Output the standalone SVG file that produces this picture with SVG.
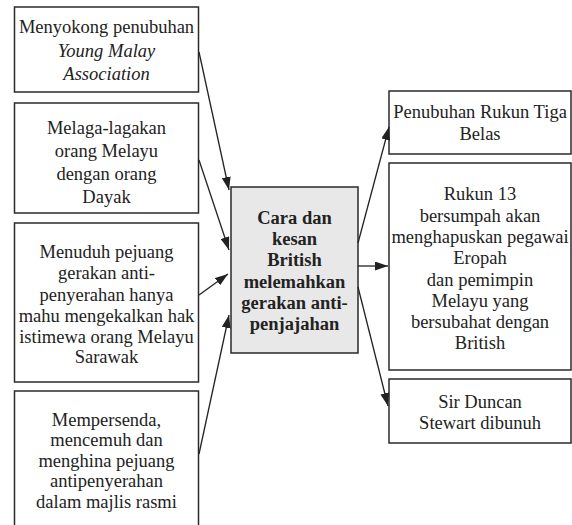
<svg xmlns="http://www.w3.org/2000/svg" width="572" height="525" viewBox="0 0 572 525">
<defs>
<style>
.box{fill:#fff;stroke:#2a2a2a;stroke-width:1.5}
.cbox{fill:#e8e8e8;stroke:#2a2a2a;stroke-width:1.5}
text{font-size:18.5px;fill:#222;text-anchor:middle}
.b{font-weight:bold}
.i{font-style:italic}
.c line{stroke:#222;stroke-width:1.3;marker-end:url(#ah)}
</style>
<marker id="ah" markerUnits="userSpaceOnUse" markerWidth="13" markerHeight="9" refX="13" refY="4.5" orient="auto">
<path d="M0,0 L13,4.5 L0,9 z" fill="#222"/>
</marker>
</defs>
<rect width="572" height="525" fill="#fff"/>
<g font-family="'Liberation Serif', 'DejaVu Serif', serif">
<g id="n1">
<rect class="box" x="14.5" y="7" width="184" height="85"/>
<text x="106.5" y="33">Menyokong penubuhan</text>
<text x="106.5" y="57" class="i">Young Malay</text>
<text x="106.5" y="80" class="i">Association</text>
</g>
<g id="n2">
<rect class="box" x="14.5" y="103" width="184" height="110"/>
<text x="106.5" y="134">Melaga-lagakan</text>
<text x="106.5" y="157">orang Melayu</text>
<text x="106.5" y="180">dengan orang</text>
<text x="106.5" y="203">Dayak</text>
</g>
<g id="n3">
<rect class="box" x="14.5" y="223" width="184" height="159"/>
<text x="106.5" y="258">Menuduh pejuang</text>
<text x="106.5" y="279">gerakan anti-</text>
<text x="106.5" y="301">penyerahan hanya</text>
<text x="106.5" y="322">mahu mengekalkan hak</text>
<text x="106.5" y="343">istimewa orang Melayu</text>
<text x="106.5" y="363">Sarawak</text>
</g>
<g id="n4">
<rect class="box" x="14.5" y="391" width="184" height="140"/>
<text x="106.5" y="426">Mempersenda,</text>
<text x="106.5" y="446">mencemuh dan</text>
<text x="106.5" y="467">menghina pejuang</text>
<text x="106.5" y="487">antipenyerahan</text>
<text x="106.5" y="508">dalam majlis rasmi</text>
</g>
<g id="center">
<rect class="cbox" x="231" y="187" width="127" height="166"/>
<text class="b" x="294.5" y="224">Cara dan</text>
<text class="b" x="294.5" y="245">kesan</text>
<text class="b" x="294.5" y="266">British</text>
<text class="b" x="294.5" y="288">melemahkan</text>
<text class="b" x="294.5" y="309">gerakan anti-</text>
<text class="b" x="294.5" y="330">penjajahan</text>
</g>
<g id="r1">
<rect class="box" x="389" y="91" width="182" height="63"/>
<text x="480" y="118">Penubuhan Rukun Tiga</text>
<text x="480" y="140">Belas</text>
</g>
<g id="r2">
<rect class="box" x="389" y="163" width="182" height="207"/>
<text x="480" y="200">Rukun 13</text>
<text x="480" y="222">bersumpah akan</text>
<text x="480" y="243">menghapuskan pegawai</text>
<text x="480" y="264">Eropah</text>
<text x="480" y="286">dan pemimpin</text>
<text x="480" y="307">Melayu yang</text>
<text x="480" y="328">bersubahat dengan</text>
<text x="480" y="349">British</text>
</g>
<g id="r3">
<rect class="box" x="389" y="379" width="182" height="64"/>
<text x="480" y="408">Sir Duncan</text>
<text x="480" y="429">Stewart dibunuh</text>
</g>
</g>
<g id="connectors" class="c">
<line x1="199" y1="52" x2="229" y2="190"/>
<line x1="199" y1="160" x2="229" y2="250"/>
<line x1="199" y1="295" x2="228" y2="274"/>
<line x1="199" y1="454" x2="229" y2="315"/>
<line x1="358" y1="243" x2="389" y2="127"/>
<line x1="358" y1="266" x2="388" y2="266"/>
<line x1="358" y1="287" x2="388" y2="406"/>
</g>
</svg>
